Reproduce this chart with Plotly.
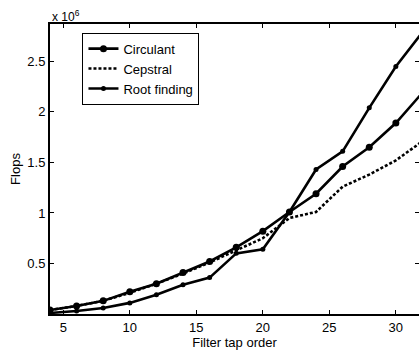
import plotly.graph_objects as go

x_order = [4, 6, 8, 10, 12, 14, 16, 18, 20, 22, 24, 26, 28, 30, 32]
circulant = [0.04, 0.08, 0.13, 0.22, 0.30, 0.41, 0.52, 0.66, 0.82, 1.01, 1.19, 1.46, 1.65, 1.89, 2.19]
cepstral = [0.04, 0.08, 0.13, 0.21, 0.30, 0.40, 0.51, 0.63, 0.75, 0.95, 1.01, 1.26, 1.38, 1.52, 1.71]
root_finding = [0.01, 0.03, 0.06, 0.11, 0.19, 0.29, 0.36, 0.60, 0.64, 1.01, 1.43, 1.61, 2.04, 2.45, 2.79]
scale = 1e6
y_ticks = [0.5, 1.0, 1.5, 2.0, 2.5]
y_tick_text = ["0.5", "1", "1.5", "2", "2.5"]
x_ticks = [5, 10, 15, 20, 25, 30]

font = "Liberation Sans, Arial, sans-serif"

fig = go.Figure()
fig.add_trace(go.Scatter(
    x=x_order, y=[v * scale for v in circulant], name="Circulant",
    mode="lines+markers", line=dict(color="black", width=2.6),
    marker=dict(color="black", size=7, symbol="circle")))
fig.add_trace(go.Scatter(
    x=x_order, y=[v * scale for v in cepstral], name="Cepstral",
    mode="lines", line=dict(color="black", width=2.6, dash="3px,2px")))
fig.add_trace(go.Scatter(
    x=x_order, y=[v * scale for v in root_finding], name="Root finding",
    mode="lines+markers", line=dict(color="black", width=2.6),
    marker=dict(color="black", size=5, symbol="circle")))
# hidden copy on the right-hand axis so its inward ticks are drawn
fig.add_trace(go.Scatter(
    x=x_order, y=[v * scale for v in circulant], yaxis="y2",
    mode="lines", line=dict(width=0), opacity=0, showlegend=False,
    hoverinfo="skip"))

fig.update_layout(
    width=419, height=351,
    margin=dict(l=50, r=0, t=24, b=37),
    paper_bgcolor="white", plot_bgcolor="white",
    font=dict(family=font, size=13, color="black"),
    showlegend=True,
    legend=dict(
        x=0.088, y=0.97, xanchor="left", yanchor="top",
        bgcolor="white", bordercolor="black", borderwidth=1,
        font=dict(size=13, family=font), tracegroupgap=0,
        itemwidth=30),
    yaxis2=dict(
        overlaying="y", side="right", matches="y", range=[0, 2.87e6],
        tickvals=[v * scale for v in y_ticks], ticks="inside", ticklen=4,
        tickcolor="black", showticklabels=False, showline=False,
        showgrid=False, zeroline=False),
)
fig.update_xaxes(
    range=[4, 31.74], tickvals=x_ticks, ticks="inside", ticklen=4,
    tickcolor="black", showline=True, linecolor="black", linewidth=2,
    showgrid=False, zeroline=False, mirror="ticks",
    title=dict(text="Filter tap order", font=dict(size=13), standoff=1),
    tickfont=dict(size=13))
fig.update_yaxes(
    range=[0, 2.87e6], tickvals=[v * scale for v in y_ticks], ticktext=y_tick_text,
    ticks="inside", ticklen=4, tickcolor="black", showline=True,
    linecolor="black", linewidth=2, showgrid=False, zeroline=False,
    mirror=False,
    title=dict(text="Flops", font=dict(size=13), standoff=4),
    tickfont=dict(size=13), selector=dict(overlaying=None))
fig.layout.yaxis.mirror = False

fig.add_annotation(
    text="x 10<sup>6</sup>", xref="paper", yref="paper", x=0.0, y=1.0,
    xanchor="left", yanchor="bottom", showarrow=False,
    font=dict(size=12, family=font), yshift=-2)

fig.write_html("out.html")
